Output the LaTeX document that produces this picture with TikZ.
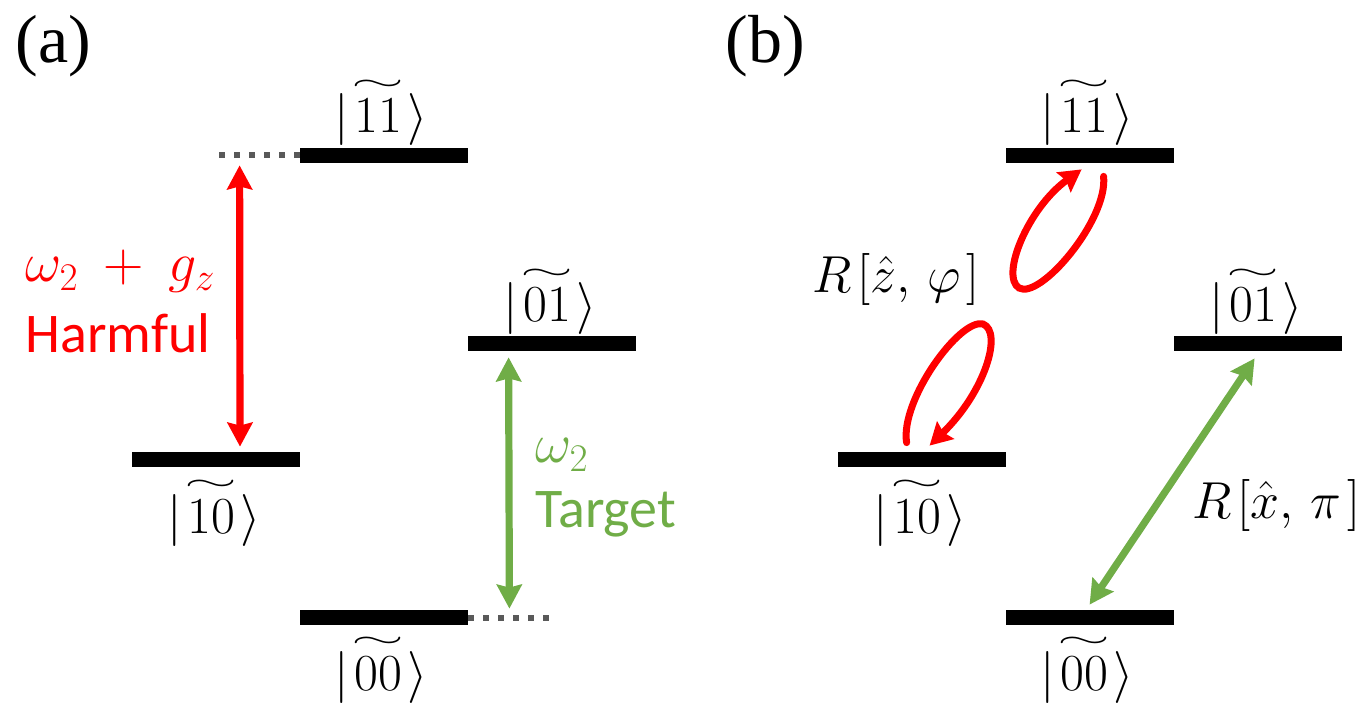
\RequirePackage{fix-cm}
\documentclass[tikz,border=0pt]{standalone}
\usepackage{amsmath}
\usepackage{fontspec}
\setmainfont{Liberation Serif}
\newfontfamily\calib{Carlito}
\usetikzlibrary{arrows.meta,calc}
\definecolor{hred}{HTML}{FF0000}
\definecolor{tgreen}{HTML}{70AD47}
\definecolor{dotgray}{HTML}{595959}
\newcommand{\wtil}[1]{\mathord{\vbox{\offinterlineskip\halign{\hfil##\hfil\cr
  \resizebox{1.02em}{0.2em}{$\sim$}\cr\noalign{\kern0.17em}$#1$\cr}}}}
\newcommand{\myket}[1]{$\mathopen{|}\mkern1mu\wtil{#1}\mkern1mu\rangle$}
\tikzset{
  bar/.style={rectangle,fill=black,draw=none,minimum width=84pt,minimum height=7.5pt,inner sep=0pt},
  ket/.style={anchor=base,inner sep=0pt,font=\fontsize{26}{30}\selectfont},
  panel/.style={anchor=base west,inner sep=0pt,font=\fontsize{34}{40}\selectfont},
  lab/.style={anchor=base west,inner sep=0pt,font=\fontsize{28}{32}\selectfont\calib},
  rlab/.style={anchor=base west,inner sep=0pt,font=\fontsize{26}{30}\selectfont},
  redarr/.style={draw=hred,line width=3.6pt,{Stealth[length=12pt,width=12.5pt,inset=1.5pt]}-{Stealth[length=12pt,width=12.5pt,inset=1.5pt]}},
  greenarr/.style={draw=tgreen,line width=3.6pt,{Stealth[length=12pt,width=12.5pt,inset=1.5pt]}-{Stealth[length=12pt,width=12.5pt,inset=1.5pt]}},
  loop/.style={draw=hred,line width=3.5pt,line cap=round,-{Stealth[length=11pt,width=12pt,inset=1.5pt]}},
  dots/.style={draw=dotgray,line width=3pt,dash pattern=on 3pt off 4.5pt}
}
\begin{document}
\begin{tikzpicture}[x=0.5pt,y=-0.5pt]
\useasboundingbox (0,0) rectangle (1371,716);
% panel labels
\node[panel] (pa) at (15,63) {(a)};
\node[panel] (pb) at (725,63) {(b)};

% ---------- (a) ----------
\node[bar] (a11) at (384,155.5) {};
\node[bar] (a01) at (552,343.5) {};
\node[bar] (a10) at (216,459.5) {};
\node[bar] (a00) at (384,617.5) {};
\node[ket] (ka11) at (381,133) {\myket{11}};
\node[ket] (ka01) at (550,322) {\myket{01}};
\node[ket] (ka10) at (214,533) {\myket{10}};
\node[ket] (ka00) at (381,690) {\myket{00}};
\draw[dots] (a11.west) -- ++(-87,0) coordinate (da11);
\draw[dots] (a00.east) -- ++(87,0) coordinate (da00);
\draw[redarr] ($(a11.south west)+(-60,2)$) -- ($(a10.north)+(24,-5)$);
\draw[greenarr] ($(a01.south west)+(41,6)$) -- ($(a00.north east)+(41,-1)$);
\node[lab,text=hred] (hm1) at (25,282) {$\omega_2\:+\:g_z$};
\node[lab,text=hred] (hm2) at (25,353) {Harmful};
\node[lab,text=tgreen] (tg1) at (535,463) {$\omega_2$};
\node[lab,text=tgreen] (tg2) at (535,527) {Target};

% ---------- (b) ----------
\node[bar] (b11) at (1090,155.5) {};
\node[bar] (b01) at (1258,343.5) {};
\node[bar] (b10) at (922,459.5) {};
\node[bar] (b00) at (1090,617.5) {};
\node[ket] (kb11) at (1087,133) {\myket{11}};
\node[ket] (kb01) at (1256,322) {\myket{01}};
\node[ket] (kb10) at (920,533) {\myket{10}};
\node[ket] (kb00) at (1087,690) {\myket{00}};
\draw[greenarr] ($(b00.north west)+(84,-5)$) -- ($(b01.south west)+(81,7)$);
\coordinate (ut) at ($(b11.south west)+(98,13)$);
\coordinate (uh) at ($(b11.south west)+(76,6)$);
\draw[loop] (ut) .. controls (1108,220) and (1040,300) .. (1019,288)
             .. controls (1000,276) and (1028,208) .. (uh);
\coordinate (lt) at ($(b10.north west)+(69,-9)$);
\coordinate (lh) at ($(b10.north west)+(92,-6)$);
\draw[loop] (lt) .. controls (900,400) and (960,318) .. (983,324)
             .. controls (1003,332) and (985,392) .. (lh);
\node[rlab] (rz) at (812,293) {$R\mkern2mu[\hat{z},\mkern3mu\varphi\mkern2mu]$};
\node[rlab] (rx) at (1192,518) {$R\mkern2mu[\hat{x},\mkern3mu\pi\mkern2mu]$};
\end{tikzpicture}
\end{document}
